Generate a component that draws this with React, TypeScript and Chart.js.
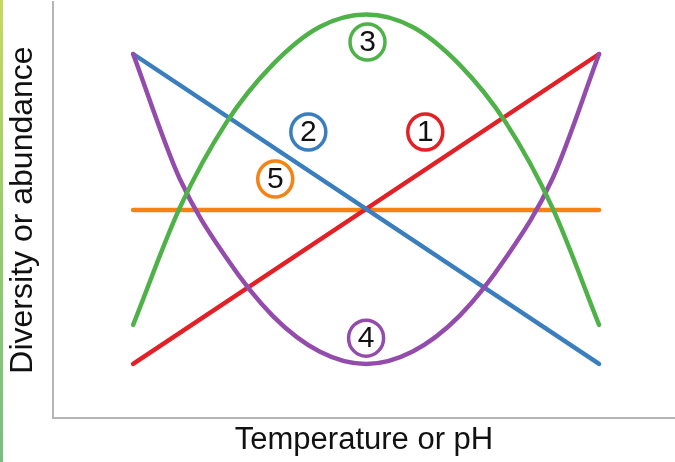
import React, { useEffect, useRef } from "react";
import { Chart, registerables } from "chart.js";

Chart.register(...registerables);

// x positions along the temperature / pH gradient (arbitrary units)
const curveX = [0, 1, 2, 3, 4, 5, 6, 7, 8, 9, 10];
const lineX = [0, 10];

// response curves (diversity or abundance, arbitrary units 0-100)
const curve1Red = [13, 87.5];
const curve2Blue = [87.5, 13];
const curve3Green = [22.4, 50.5, 71, 85, 94, 97, 94, 85, 71, 50.5, 22.4];
const curve4Purple = [87.5, 57.5, 38.5, 24.5, 16, 13, 16, 24.5, 38.5, 57.5, 87.5];
const curve5Orange = [50, 50];

// numbered circle labels
const labelText = ["1", "2", "3", "4", "5"];
const labelX = [6.27, 3.76, 5.03, 5.0, 3.05];
const labelY = [68.75, 68.75, 90.4, 19.2, 57.45];

const RED = "rgb(226,32,38)";
const BLUE = "rgb(58,126,190)";
const GREEN = "rgb(78,178,72)";
const PURPLE = "rgb(148,76,172)";
const ORANGE = "rgb(246,130,20)";
const labelColors = [RED, BLUE, GREEN, PURPLE, ORANGE];

const FONT = "'Liberation Sans', Arial, Helvetica, sans-serif";

function pts(xs: number[], ys: number[]) {
  return xs.map((x, i) => ({ x, y: ys[i] }));
}

const circleLabels = {
  id: "circleLabels",
  afterDatasetsDraw(chart: any) {
    const { ctx, scales } = chart;
    ctx.save();
    labelText.forEach((t, i) => {
      const cx = scales.x.getPixelForValue(labelX[i]);
      const cy = scales.y.getPixelForValue(labelY[i]);
      ctx.beginPath();
      ctx.ellipse(cx, cy, 17.5, 18, 0, 0, Math.PI * 2);
      ctx.fillStyle = "#ffffff";
      ctx.fill();
      ctx.lineWidth = 3.5;
      ctx.strokeStyle = labelColors[i];
      ctx.stroke();
      ctx.fillStyle = "#111111";
      ctx.font = `30px ${FONT}`;
      ctx.textAlign = "center";
      ctx.textBaseline = "middle";
      ctx.fillText(t, cx, cy + 1);
    });
    ctx.restore();
  },
};

export default function App() {
  const ref = useRef<HTMLCanvasElement | null>(null);

  useEffect(() => {
    if (!ref.current) return;
    const lineStyle = {
      borderWidth: 4.5,
      pointRadius: 0,
      fill: false,
      borderCapStyle: "round" as const,
      borderJoinStyle: "round" as const,
    };
    const chart = new Chart(ref.current, {
      type: "line",
      data: {
        datasets: [
          { ...lineStyle, label: "3", data: pts(curveX, curve3Green), borderColor: GREEN, cubicInterpolationMode: "monotone" },
          { ...lineStyle, label: "4", data: pts(curveX, curve4Purple), borderColor: PURPLE, cubicInterpolationMode: "monotone" },
          { ...lineStyle, label: "2", data: pts(lineX, curve2Blue), borderColor: BLUE },
          { ...lineStyle, label: "1", data: pts(lineX, curve1Red), borderColor: RED },
          { ...lineStyle, label: "5", data: pts(lineX, curve5Orange), borderColor: ORANGE },
        ],
      },
      options: {
        responsive: false,
        animation: false,
        layout: { padding: { left: 0, right: 0, top: 2, bottom: 0 } },
        plugins: { legend: { display: false }, tooltip: { enabled: false } },
        scales: {
          x: {
            type: "linear",
            min: -1.72,
            max: 11.63,
            grid: { display: false },
            ticks: { display: false },
            border: { display: true, color: "#b4b4b4", width: 2 },
            title: {
              display: true,
              text: "Temperature or pH",
              color: "#111111",
              font: { family: FONT, size: 31 },
              padding: { top: 4, bottom: 2.5 },
            },
            afterFit(scale: any) {
              scale.height = 44;
            },
          },
          y: {
            type: "linear",
            min: 0,
            max: 100,
            grid: { display: false },
            ticks: { display: false },
            border: { display: true, color: "#b4b4b4", width: 2 },
            title: {
              display: true,
              text: "Diversity or abundance",
              color: "#111111",
              font: { family: FONT, size: 32 },
              padding: { top: 4, bottom: 4 },
            },
            afterFit(scale: any) {
              scale.width = 53;
            },
          },
        },
      },
      plugins: [circleLabels],
    });
    return () => chart.destroy();
  }, []);

  return (
    <div style={{ position: "fixed", left: 0, top: 0, width: 675, height: 462, background: "#ffffff" }}>
      <canvas ref={ref} width={675} height={462} style={{ display: "block" }} />
      <div
        style={{
          position: "absolute",
          left: 0,
          top: 0,
          width: 3,
          height: 462,
          background: "linear-gradient(to bottom, rgb(200,216,96), rgb(150,204,110) 50%, rgb(120,190,130))",
        }}
      />
    </div>
  );
}
